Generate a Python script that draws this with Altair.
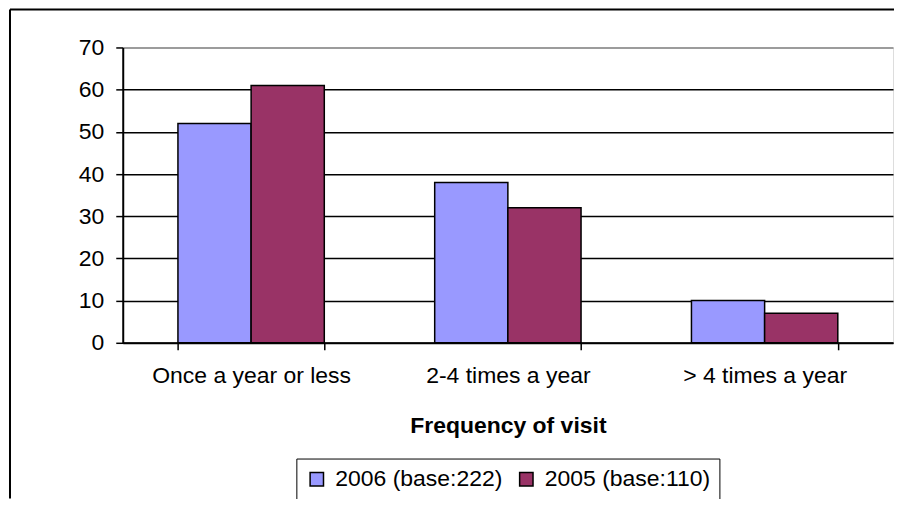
import altair as alt
import pandas as pd

categories = ["Once a year or less", "2-4 times a year", "> 4 times a year"]
series = ["2006 (base:222)", "2005 (base:110)"]
v2006 = [52, 38, 10]
v2005 = [61, 32, 7]
colors = ["#9999FF", "#993366"]
y_ticks = [0, 10, 20, 30, 40, 50, 60, 70]

rows = []
for c, a, b in zip(categories, v2006, v2005):
    rows.append({"cat": c, "series": series[0], "value": a})
    rows.append({"cat": c, "series": series[1], "value": b})
df = pd.DataFrame(rows)

FONT = "Liberation Sans"
FS = 23

bars = alt.Chart(df).mark_bar(stroke="black", strokeWidth=1.5).encode(
    x=alt.X(
        "cat:N",
        sort=categories,
        scale=alt.Scale(paddingInner=0.43, paddingOuter=0.215),
        axis=alt.Axis(
            title="Frequency of visit",
            labelAngle=0,
            labelLimit=0,
            tickBand="extent",
            tickSize=7,
            tickWidth=1.5,
            tickColor="black",
            domainColor="black",
            domainWidth=2,
            labelFont=FONT,
            labelFontSize=FS,
            labelColor="black",
            labelPadding=15,
            titleFont=FONT,
            titleFontSize=FS,
            titleFontWeight="bold",
            titleColor="black",
            titlePadding=27,
            grid=False,
        ),
    ),
    xOffset=alt.XOffset("series:N", sort=series),
    y=alt.Y(
        "value:Q",
        scale=alt.Scale(domain=[0, 70], nice=False),
        axis=alt.Axis(
            title=None,
            values=y_ticks,
            grid=True,
            gridColor={"condition": {"test": "datum.value === 70", "value": "#808080"}, "value": "black"},
            gridWidth=1.5,
            tickSize=7,
            tickWidth=1.5,
            tickColor="black",
            domainColor="black",
            domainWidth=2,
            labelFont=FONT,
            labelFontSize=FS,
            labelColor="black",
            labelPadding=12,
        ),
    ),
    color=alt.Color(
        "series:N",
        sort=series,
        scale=alt.Scale(domain=series, range=colors),
        legend=alt.Legend(
            title=None,
            orient="none",
            legendX=174,
            legendY=412,
            direction="horizontal",
            strokeColor="black",
            padding=9,
            symbolType="square",
            symbolSize=180,
            symbolStrokeColor="black",
            symbolStrokeWidth=1.5,
            symbolOpacity=1,
            labelFont=FONT,
            labelFontSize=FS,
            labelColor="black",
            labelLimit=0,
            labelOffset=7,
            columnPadding=12,
        ),
    ),
)

frame_df = pd.DataFrame({"k": [0]})
frame_top = alt.Chart(frame_df).mark_rule(color="black", strokeWidth=2).encode(
    x=alt.value(-113), x2=alt.value(774), y=alt.value(-38)
)
frame_left = alt.Chart(frame_df).mark_rule(color="black", strokeWidth=2).encode(
    x=alt.value(-113), y=alt.value(-38), y2=alt.value(452)
)

chart = alt.layer(frame_top, frame_left, bars).properties(
    width=772,
    height=296,
    autosize=alt.AutoSizeParams(type="none"),
    padding={"left": 115, "top": 39, "right": 1, "bottom": 156},
).configure_view(
    stroke="#808080", strokeWidth=1.5
).configure(background="white")

chart.save("out.html", embed_options={"renderer": "svg", "actions": False})
